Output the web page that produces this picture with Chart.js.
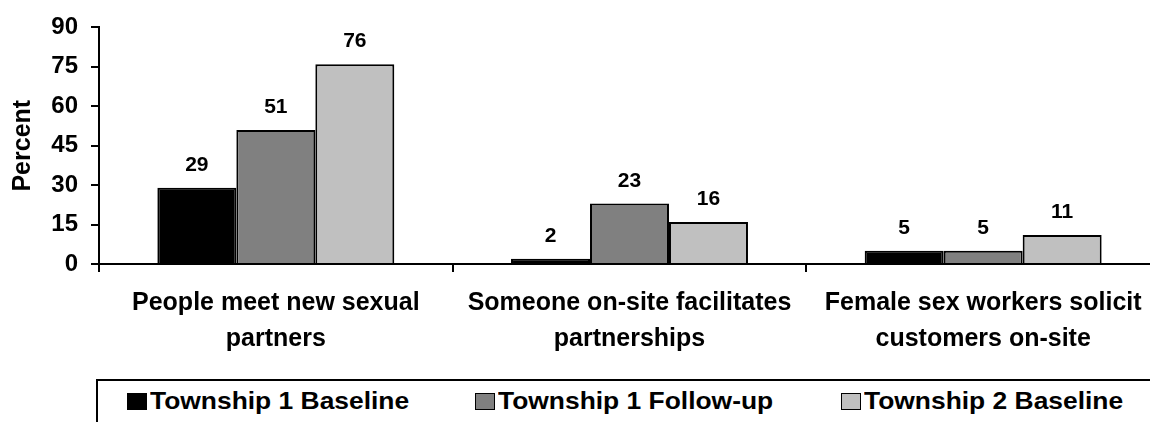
<!DOCTYPE html>
<html>
<head>
<meta charset="utf-8">
<script src="https://cdn.jsdelivr.net/npm/chart.js@4"></script>
<style>
  html, body { margin: 0; padding: 0; background: #fff; overflow: hidden; width: 1150px; height: 422px; }
  #wrap { position: relative; width: 1150px; height: 422px; overflow: hidden; }
  #c { position: absolute; left: 0; top: 0; }
  #legend {
    position: absolute; left: 96px; top: 379px; width: 1100px; height: 70px;
    border: 2px solid #000; box-sizing: border-box;
    font-family: 'Liberation Sans', Arial, sans-serif; font-weight: bold; font-size: 24px; color: #000;
  }
  .item { position: absolute; top: 6px; height: 28px; line-height: 28px; display: flex; align-items: center; white-space: nowrap; }
  .sw { width: 18px; height: 15px; border: 1px solid #000; margin-right: 3px; flex: none; }
  .tx { display: inline-block; transform: scaleX(1.1); transform-origin: left center; }
</style>
</head>
<body>
<div id="wrap">
  <canvas id="c" width="1170" height="372"></canvas>
  <div id="legend"></div>
</div>
<script>
// data
const categories = [
  ["People meet new sexual", "partners"],
  ["Someone on-site facilitates", "partnerships"],
  ["Female sex workers solicit", "customers on-site"]
];
const seriesNames = ["Township 1 Baseline", "Township 1 Follow-up", "Township 2 Baseline"];
const township1Baseline = [29, 2, 5];
const township1FollowUp = [51, 23, 5];
const township2Baseline = [76, 16, 11];
const yTicks = [0, 15, 30, 45, 60, 75, 90];

const colors = ["#000000", "#808080", "#c0c0c0"];
const values = [township1Baseline, township1FollowUp, township2Baseline];
const legendLeft = [29, 377, 743]; // offsets inside legend box

const FONT = "'Liberation Sans', Arial, sans-serif";
Chart.defaults.font.family = FONT;
Chart.defaults.color = "#000";

// value labels above the bars
const barLabels = {
  id: 'barLabels',
  afterDatasetsDraw(chart) {
    const ctx = chart.ctx;
    ctx.save();
    ctx.font = "bold 21px " + FONT;
    ctx.fillStyle = "#000";
    ctx.textAlign = "center";
    ctx.textBaseline = "alphabetic";
    chart.data.datasets.forEach((ds, i) => {
      chart.getDatasetMeta(i).data.forEach((bar, j) => {
        ctx.fillText(String(ds.data[j]), bar.x, bar.y - 17);
      });
    });
    ctx.restore();
  }
};

new Chart(document.getElementById('c'), {
  type: 'bar',
  data: {
    labels: categories,
    datasets: seriesNames.map((name, i) => ({
      label: name,
      data: values[i],
      backgroundColor: colors[i],
      borderColor: "#000",
      borderWidth: 2,
      categoryPercentage: 0.67,
      barPercentage: 1.0
    }))
  },
  options: {
    responsive: false,
    animation: false,
    layout: { padding: { left: 0, top: 23, right: 10, bottom: 0 } },
    plugins: { legend: { display: false }, tooltip: { enabled: false } },
    scales: {
      x: {
        grid: { drawOnChartArea: false, tickLength: 8, color: "#000", lineWidth: 2, offset: true },
        border: { color: "#000", width: 2 },
        ticks: { font: { size: 25, weight: 'bold', lineHeight: 1.44 }, padding: 13, maxRotation: 0, autoSkip: false },
        afterFit(scale) { scale.height = 372 - 264; }
      },
      y: {
        min: 0, max: 90,
        afterBuildTicks(scale) { scale.ticks = yTicks.map(v => ({ value: v })); },
        grid: { drawOnChartArea: false, tickLength: 8, color: "#000", lineWidth: 2 },
        border: { color: "#000", width: 2 },
        ticks: { font: { size: 24, weight: 'bold' }, padding: 13 },
        title: { display: true, text: "Percent", font: { size: 25, weight: 'bold', lineHeight: 1.2 }, padding: { top: 8, bottom: 0 } },
        afterFit(scale) { scale.width = 99; }
      }
    }
  },
  plugins: [barLabels]
});

// legend as html, from the same arrays
const legend = document.getElementById('legend');
seriesNames.forEach((name, i) => {
  const it = document.createElement('div');
  it.className = 'item';
  it.style.left = legendLeft[i] + 'px';
  const sw = document.createElement('span');
  sw.className = 'sw';
  sw.style.background = colors[i];
  const tx = document.createElement('span');
  tx.className = 'tx';
  tx.textContent = name;
  it.appendChild(sw);
  it.appendChild(tx);
  legend.appendChild(it);
});
</script>
</body>
</html>
